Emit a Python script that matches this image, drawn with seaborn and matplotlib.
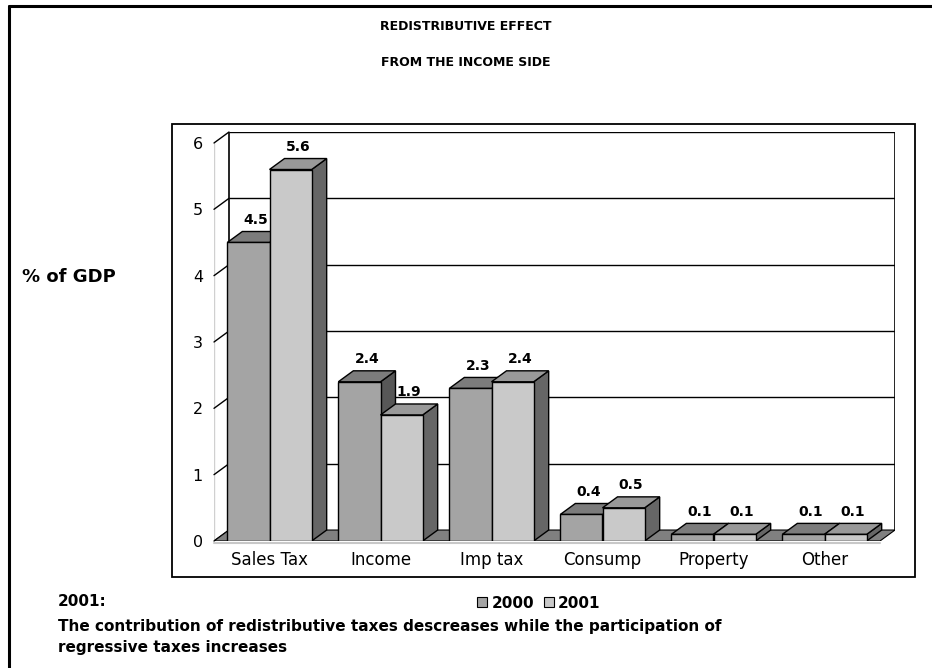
import matplotlib
matplotlib.use("Agg")
import matplotlib.pyplot as plt
from matplotlib.patches import Polygon, Rectangle, Patch
from matplotlib.lines import Line2D
import seaborn as sns
import pandas as pd

# ---- data -------------------------------------------------------------
categories = ["Sales Tax", "Income", "Imp tax", "Consump", "Property", "Other"]
years = ["2000", "2001"]
values_2000 = [4.5, 2.4, 2.3, 0.4, 0.1, 0.1]
values_2001 = [5.6, 1.9, 2.4, 0.5, 0.1, 0.1]
y_ticks = [0, 1, 2, 3, 4, 5, 6]

title_lines = ["REDISTRIBUTIVE EFFECT", "FROM THE INCOME SIDE"]
y_label = "% of GDP"
note_head = "2001:"
note_lines = ["The contribution of redistributive taxes descreases while the participation of",
              "regressive taxes increases"]

df = pd.DataFrame({
    "category": categories * 2,
    "year": [years[0]] * len(categories) + [years[1]] * len(categories),
    "value": values_2000 + values_2001,
})

# ---- styling ----------------------------------------------------------
sns.set_style("white")
plt.rcParams["font.family"] = ["DejaVu Sans"]
plt.rcParams["text.color"] = "black"
plt.rcParams["xtick.color"] = "black"
plt.rcParams["ytick.color"] = "black"
plt.rcParams["xtick.labelcolor"] = "black"
plt.rcParams["ytick.labelcolor"] = "black"
BOLD = ["DejaVu Sans"]

front_colors = ["#a4a4a4", "#c9c9c9"]
top_colors = ["#7c7c7c", "#999999"]
side_colors = ["#575757", "#666666"]
floor_color = "#808080"

W, H = 932, 668
fig = plt.figure(figsize=(W / 100, H / 100), dpi=100)
fig.patch.set_facecolor("white")


def px(x, y):
    """pixel position (top-left origin) -> figure fraction"""
    return x / W, 1 - y / H


# plot area: front plane from x=214..880, back wall up to x=895 / y=132
ax_l, ax_r, ax_t, ax_b = 214, 895, 132, 541
ax = fig.add_axes([ax_l / W, 1 - ax_b / H, (ax_r - ax_l) / W, (ax_b - ax_t) / H])
ax.set_facecolor("none")

sns.barplot(data=df, x="category", y="value", hue="year", order=categories,
            hue_order=years, palette=front_colors, saturation=1, width=0.76,
            edgecolor="black", linewidth=1.0, legend=False, ax=ax)

ymax = y_ticks[-1]
n = len(categories)
dx = 15 / ((880 - 214) / n)        # depth offset in category units
dy = 11 / ((541 - 142) / ymax)     # depth offset in value units
x_front0, x_front1 = -0.5, n - 0.5

ax.set_xlim(x_front0, x_front1 + dx)
ax.set_ylim(0, ymax + dy)
for s in ax.spines.values():
    s.set_visible(False)

# back wall gridlines and edges
for v in y_ticks[1:]:
    ax.plot([x_front0 + dx, x_front1 + dx], [v + dy, v + dy], color="black",
            lw=1.0, zorder=0.5, solid_capstyle="butt")
for xe in (x_front0 + dx, x_front1 + dx):
    ax.plot([xe, xe], [dy, ymax + dy], color="black", lw=1.2, zorder=0.5)
# left wall front edge and depth ticks
ax.plot([x_front0, x_front0], [0, ymax], color="#d0d0d0", lw=1.0, zorder=0.4)
for v in y_ticks:
    ax.plot([x_front0, x_front0 + dx], [v, v + dy], color="black", lw=1.0,
            zorder=0.6, clip_on=False)

# floor
ax.add_patch(Polygon([(x_front0, 0), (x_front1, 0), (x_front1 + dx, dy),
                      (x_front0 + dx, dy)], closed=True, fc=floor_color,
                     ec="black", lw=0.8, zorder=1))
ax.plot([x_front0, x_front1], [-0.03, -0.03], color="#c8c8c8", lw=1.5,
        zorder=1, clip_on=False)

# 3-D tops and sides for each bar, plus value labels
for j, cont in enumerate(ax.containers):
    vals = [values_2000, values_2001][j]
    for bar, val in zip(cont.patches, vals):
        x0, w, h = bar.get_x(), bar.get_width(), bar.get_height()
        bar.set_zorder(3 + 2 * j)
        top = Polygon([(x0, h), (x0 + w, h), (x0 + w + dx, h + dy), (x0 + dx, h + dy)],
                      closed=True, fc=top_colors[j], ec="black", lw=1.0, zorder=2 + 2 * j)
        side = Polygon([(x0 + w, 0), (x0 + w + dx, dy), (x0 + w + dx, h + dy), (x0 + w, h)],
                       closed=True, fc=side_colors[j], ec="black", lw=1.0, zorder=2 + 2 * j)
        ax.add_patch(side)
        ax.add_patch(top)
        ax.text(x0 + w / 2 + dx / 2, h + dy + 0.07, f"{val:.1f}", ha="center",
                va="bottom", fontsize=10, fontweight="bold", family=BOLD,
                zorder=10, clip_on=False)

ax.set_yticks(y_ticks)
ax.set_yticklabels([str(t) for t in y_ticks], fontsize=11.5)
ax.set_xticks(range(n))
ax.set_xticklabels(categories, fontsize=12)
ax.tick_params(axis="y", length=0, pad=8)
ax.tick_params(axis="x", length=0, pad=7)
ax.set_xlabel("")
ax.set_ylabel("")

# titles and annotations
fig.text(*px(466, 26), title_lines[0], ha="center", va="center", fontsize=9,
         fontweight="bold", family=BOLD)
fig.text(*px(466, 63), title_lines[1], ha="center", va="center", fontsize=9,
         fontweight="bold", family=BOLD)
fig.text(*px(22, 277), y_label, ha="left", va="center", fontsize=13,
         fontweight="bold", family=BOLD)
fig.text(*px(58, 602), note_head, ha="left", va="center", fontsize=11,
         fontweight="bold", family=BOLD)
for k, line in enumerate(note_lines):
    fig.text(*px(58, 626 + 21.5 * k), line, ha="left", va="center", fontsize=11,
             fontweight="bold", family=BOLD)

# legend
handles = [Patch(fc=c, ec="black", lw=0.8) for c in front_colors]
fig.legend(handles, years, loc="center", bbox_to_anchor=px(539, 603), ncol=2,
           frameon=False, prop={"size": 11, "weight": "bold", "family": BOLD},
           handlelength=0.65, handleheight=0.65, handletextpad=0.3,
           columnspacing=0.6, borderpad=0)

# chart box and page frame
fig.add_artist(Rectangle(px(172, 577), (915 - 172) / W, (577 - 124) / H,
                         transform=fig.transFigure, fill=False, ec="black", lw=1.3))
fig.add_artist(Line2D([9 / W, 1], [1 - 6 / H] * 2, transform=fig.transFigure,
                      color="black", lw=2.2))
fig.add_artist(Line2D([9 / W] * 2, [0, 1 - 6 / H], transform=fig.transFigure,
                      color="black", lw=2.2))

fig.savefig("out.png", dpi=100)
